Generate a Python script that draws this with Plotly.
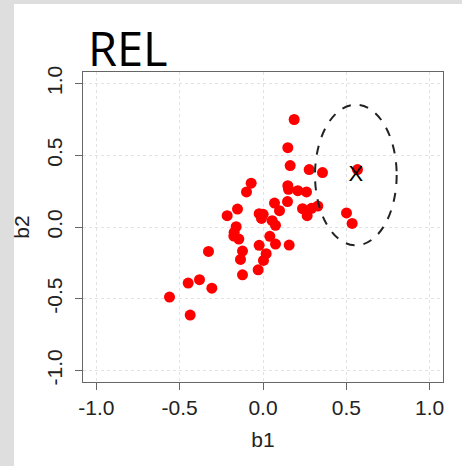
import plotly.graph_objects as go

# data
b1 = [0.187, 0.149, 0.163, 0.277, 0.357, 0.567, -0.071, -0.099, 0.149, 0.153,
      0.209, 0.261, 0.069, 0.099, 0.147, 0.237, 0.291, 0.329, 0.265, -0.153,
      -0.215, -0.023, 0.001, -0.009, 0.055, 0.075, 0.501, 0.535, -0.161, -0.173,
      -0.175, -0.145, 0.041, -0.023, 0.075, 0.157, -0.327, -0.123, 0.019, -0.135,
      0.003, -0.029, -0.123, -0.449, -0.381, -0.307, -0.561, -0.437]
b2 = [0.749, 0.553, 0.428, 0.400, 0.379, 0.400, 0.305, 0.244, 0.288, 0.263,
      0.253, 0.244, 0.167, 0.114, 0.177, 0.128, 0.130, 0.146, 0.079, 0.125,
      0.079, 0.093, 0.088, 0.060, 0.044, 0.012, 0.098, 0.025, 0.002, -0.037,
      -0.063, -0.084, -0.065, -0.128, -0.119, -0.126, -0.170, -0.168, -0.186, -0.226,
      -0.233, -0.298, -0.333, -0.391, -0.367, -0.426, -0.488, -0.614]

target_x = [0.557]
target_y = [0.362]
ell_rx = 0.245
ell_ry = 0.49

tick_vals = [-1.0, -0.5, 0.0, 0.5, 1.0]
tick_text = ["-1.0", "-0.5", "0.0", "0.5", "1.0"]

W, H = 462, 466
ML, MR, MT, MB = 83, 19, 72, 84
PW, PH = W - ML - MR, H - MT - MB

def px_x(p):
    return (p - ML) / PW

def px_y(p):
    return (H - MB - p) / PH

fig = go.Figure()
fig.add_trace(go.Scatter(x=b1, y=b2, mode="markers",
                         marker=dict(color="#ff0000", size=11, line=dict(width=0)),
                         showlegend=False, hoverinfo="skip"))
fig.add_trace(go.Scatter(x=target_x, y=target_y, mode="text", text=["X"],
                         textfont=dict(family="Liberation Sans", size=22, color="black"),
                         showlegend=False, hoverinfo="skip"))

# background: gray frame with white panel
fig.add_shape(type="rect", xref="paper", yref="paper",
              x0=px_x(14), x1=px_x(470), y0=px_y(470), y1=px_y(4),
              fillcolor="white", line=dict(width=0), layer="below")

fig.add_shape(type="circle", xref="x", yref="y",
              x0=target_x[0] - ell_rx, x1=target_x[0] + ell_rx,
              y0=target_y[0] - ell_ry, y1=target_y[0] + ell_ry,
              line=dict(color="#222222", width=2, dash="dash"))

fig.add_annotation(text="REL", xref="paper", yref="paper",
                   x=px_x(86), y=px_y(48), xanchor="left", yanchor="middle",
                   showarrow=False,
                   font=dict(family="Open Sans", size=47, color="black", weight=500))

axis_common = dict(range=[-1.08, 1.08], tickvals=tick_vals, ticktext=tick_text,
                   showgrid=True, gridcolor="#e2e2e2", griddash="dot", gridwidth=1,
                   zeroline=False, showline=True, linecolor="#666666", linewidth=1,
                   mirror=True, ticks="outside", ticklen=7, tickcolor="#666666",
                   tickfont=dict(family="Liberation Sans", size=21, color="#222222"),
                   title_font=dict(family="Liberation Sans", size=21, color="#222222"))

fig.update_xaxes(**axis_common, title_text="b1", title_standoff=14)
fig.update_yaxes(**axis_common, title_text="b2", tickangle=-90, title_standoff=7,
                 ticklabelstandoff=5)

fig.update_layout(width=W, height=H, margin=dict(l=ML, r=MR, t=MT, b=MB),
                  paper_bgcolor="#dedede", plot_bgcolor="white")

fig.write_html("out.html")
